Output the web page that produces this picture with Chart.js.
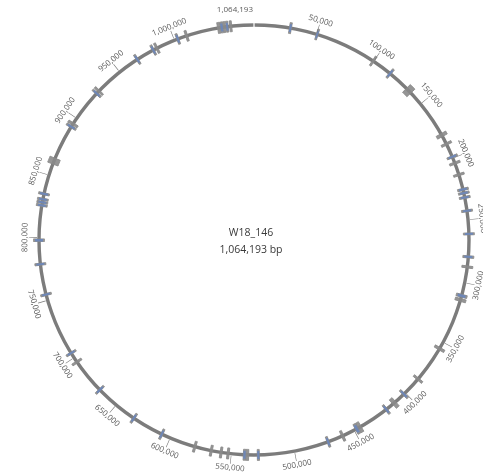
<!DOCTYPE html>
<html>
<head>
<meta charset="utf-8">
<script src="https://cdn.jsdelivr.net/npm/chart.js@4.4.1/dist/chart.umd.min.js"></script>
<style>
  html, body { margin: 0; padding: 0; background: #ffffff; }
  #map { position: relative; width: 483px; height: 475px; }
  #map canvas { position: absolute; left: 0; top: 0; }
</style>
</head>
<body>
<div id="map">
  <canvas id="backbone" width="483" height="475"></canvas>
  <canvas id="features" width="483" height="475"></canvas>
  <canvas id="cores" width="483" height="475"></canvas>
  <canvas id="ticks" width="483" height="475"></canvas>
</div>
<script>
// Sequence record
const genomeName = 'W18_146';
const genomeLength = 1064193;
const lengthLabel = '1,064,193 bp';
const endLabel = '1,064,193';

// Position ruler (bp) and its labels
const tickPositions = [50000, 100000, 150000, 200000, 250000, 300000, 350000, 400000, 450000, 500000,
  550000, 600000, 650000, 700000, 750000, 800000, 850000, 900000, 950000, 1000000];
const tickLabels = ['50,000', '100,000', '150,000', '200,000', '250,000', '300,000', '350,000', '400,000', '450,000', '500,000',
  '550,000', '600,000', '650,000', '700,000', '750,000', '800,000', '850,000', '900,000', '950,000', '1,000,000'];

// Annotated features (bp); featureBlue = 1 marks features drawn with a blue core
const featureStart = [28000, 49800, 98800, 115300, 133500, 178500, 186800, 198000, 203300, 213000,
  225000, 228000, 231500, 242200, 260500, 278500, 286500, 309400, 312800, 354800,
  384300, 400600, 410300, 419000, 443800, 446600, 459300, 471700, 527900, 536300,
  538700, 551700, 557300, 565200, 578500, 606400, 631800, 666700, 695200, 703500,
  753900, 778200, 797000, 824800, 827200, 829600, 834000, 859300, 891300, 893800,
  924400, 926900, 966200, 980800, 984000, 1002000, 1009400, 1035400, 1037800, 1040000,
  1042200, 1045000];
const featureEnd = [29600, 51200, 100300, 116900, 138500, 181000, 188500, 199600, 205000, 214600,
  226700, 229600, 233100, 243800, 262000, 280200, 288100, 311600, 315000, 356800,
  386000, 402300, 413200, 420700, 446200, 448800, 461000, 473300, 529500, 538400,
  540500, 553300, 558900, 566800, 580100, 608000, 633400, 668300, 696800, 705100,
  755500, 779800, 799000, 826400, 828800, 831200, 835600, 864200, 893000, 895600,
  926000, 928500, 967800, 982400, 985600, 1003600, 1011000, 1037400, 1039600, 1041600,
  1043800, 1046600];
const featureBlue = [1, 1, 0, 1, 0, 0, 0, 1, 0, 0,
  1, 1, 1, 1, 1, 1, 0, 1, 0, 0,
  0, 1, 0, 1, 0, 1, 0, 1, 1, 0,
  1, 0, 0, 0, 0, 1, 1, 1, 0, 1,
  1, 1, 1, 1, 1, 1, 1, 0, 1, 0,
  1, 0, 1, 1, 0, 1, 0, 0, 1, 0,
  1, 0];

const NONE = 'rgba(0,0,0,0)';
const tickWidth = 450; // bp drawn for each ruler tick

// Turn a list of [start, end) intervals into contiguous doughnut segments
function segments(starts, ends, colorFor) {
  const data = [], colors = [];
  let pos = 0;
  starts.forEach((s, i) => {
    if (s > pos) { data.push(s - pos); colors.push(NONE); }
    const from = Math.max(s, pos);
    data.push(ends[i] - from); colors.push(colorFor(i));
    pos = ends[i];
  });
  if (pos < genomeLength) { data.push(genomeLength - pos); colors.push(NONE); }
  return { data, colors };
}

function ring(id, seg, outer, inner, edge, plugins) {
  return new Chart(document.getElementById(id), {
    type: 'doughnut',
    data: {
      datasets: [{
        data: seg.data,
        backgroundColor: seg.colors,
        borderColor: seg.colors,
        borderWidth: edge,
        borderAlign: 'center',
        hoverOffset: 0
      }]
    },
    options: {
      responsive: false,
      animation: false,
      events: [],
      radius: outer,
      cutout: (inner / outer * 100) + '%',
      layout: { padding: { left: 25, top: 5 } },
      plugins: { legend: { display: false }, tooltip: { enabled: false } }
    },
    plugins: plugins || []
  });
}

// Backbone circle
ring('backbone', { data: [genomeLength], colors: ['#7c7c7c'] }, 216.7, 213.3, 0);

// All features in grey, with a soft edge
ring('features', segments(featureStart, featureEnd, () => 'rgba(138,138,138,0.9)'), 220.5, 209.5, 1);

// Blue cores of the blue-marked features
const blueIdx = featureBlue.map((b, i) => b ? i : -1).filter(i => i >= 0);
ring('cores',
  segments(blueIdx.map(i => featureStart[i]), blueIdx.map(i => featureEnd[i]), () => 'rgba(104,134,190,0.85)'),
  219, 211, 0);

// Ruler ticks plus text
const tickStarts = tickPositions.map(p => p - tickWidth / 2);
const tickEnds = tickPositions.map(p => p + tickWidth / 2);

const textPlugin = {
  id: 'mapText',
  afterDraw(chart) {
    const ctx = chart.ctx;
    const arcs = chart.getDatasetMeta(0).data;
    const cx = arcs[0].x, cy = arcs[0].y;
    const labelR = 229;
    ctx.save();
    ctx.fillStyle = '#5a5a5a';
    ctx.font = '8px "Open Sans"';
    ctx.textAlign = 'center';
    ctx.textBaseline = 'middle';
    let k = 0;
    chart.data.datasets[0].backgroundColor.forEach((c, i) => {
      if (c === NONE) return;
      const arc = arcs[i];
      const a = (arc.startAngle + arc.endAngle) / 2;
      const lx = cx + labelR * Math.cos(a), ly = cy + labelR * Math.sin(a);
      let rot = a + Math.PI / 2;
      // lower half reads upright
      if (Math.sin(a) > 0 && rot > Math.PI / 2 && rot < 3 * Math.PI / 2) rot -= Math.PI;
      ctx.save();
      ctx.translate(lx, ly);
      ctx.rotate(rot);
      ctx.fillText(tickLabels[k], 0, 0);
      ctx.restore();
      k++;
    });
    // sequence end, at the origin
    const a0 = arcs[0].startAngle;
    ctx.save();
    ctx.translate(cx + labelR * Math.cos(a0), cy + labelR * Math.sin(a0) - 1);
    ctx.textAlign = 'right';
    ctx.fillText(endLabel, -1, 0);
    ctx.restore();
    ctx.strokeStyle = '#ffffff';
    ctx.lineWidth = 1.2;
    ctx.beginPath();
    ctx.moveTo(cx + 212.5 * Math.cos(a0), cy + 212.5 * Math.sin(a0));
    ctx.lineTo(cx + 217.5 * Math.cos(a0), cy + 217.5 * Math.sin(a0));
    ctx.stroke();

    // title in the middle
    ctx.fillStyle = '#3a3a3a';
    ctx.font = '10.5px "Open Sans"';
    ctx.fillText(genomeName, cx - 3, cy - 7);
    ctx.fillText(lengthLabel, cx - 3, cy + 10);
    ctx.restore();
  }
};

ring('ticks', segments(tickStarts, tickEnds, () => '#777777'), 225, 217, 0, [textPlugin]);
</script>
</body>
</html>
